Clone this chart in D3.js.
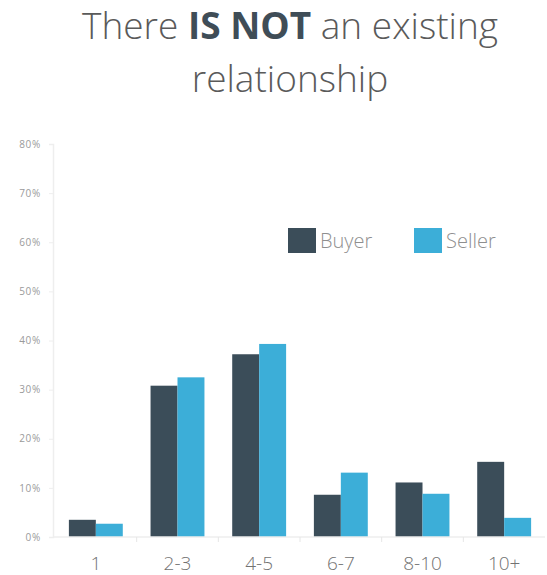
<!DOCTYPE html>
<html>
<head>
<meta charset="utf-8">
<script src="https://cdn.jsdelivr.net/npm/d3@7/dist/d3.min.js"></script>
<style>
  html, body { margin: 0; padding: 0; background: #fff; }
  svg { display: block; font-family: "Open Sans", "Noto Sans", sans-serif; }
</style>
</head>
<body>
<svg id="chart" width="547" height="575"></svg>
<script>
// Number of conversations/touchpoints, share of respondents
const categories = ["1", "2-3", "4-5", "6-7", "8-10", "10+"];
const seriesNames = ["Buyer", "Seller"];
const buyerValues = [3.5, 30.8, 37.2, 8.6, 11.1, 15.3];
const sellerValues = [2.7, 32.5, 39.3, 13.1, 8.8, 3.9];
const yTicks = [0, 10, 20, 30, 40, 50, 60, 70, 80];
const colors = ["#3b4d59", "#3caed8"];

const svg = d3.select("#chart");

// Title, two lines with a bold middle phrase
const title = svg.append("text")
  .attr("text-anchor", "middle")
  .attr("fill", "#5a5a5a")
  .style("font-size", "37px")
  .style("font-weight", 300);
const l1 = title.append("tspan").attr("x", 290).attr("y", 39);
l1.append("tspan").text("There ");
l1.append("tspan").text("IS NOT").style("font-weight", 700).attr("fill", "#3f4d57");
l1.append("tspan").text(" an existing");
title.append("tspan").attr("x", 290).attr("y", 92).text("relationship");

const x0 = d3.scaleBand()
  .domain(categories)
  .range([55, 545])
  .paddingInner(0.34)
  .paddingOuter(0.17);

const x1 = d3.scaleBand()
  .domain(seriesNames)
  .range([0, x0.bandwidth()]);

const y = d3.scaleLinear()
  .domain([0, 80])
  .range([537, 144]);

const color = d3.scaleOrdinal().domain(seriesNames).range(colors);

// Y axis
const yAxis = svg.append("g")
  .attr("transform", "translate(53,0)")
  .call(d3.axisLeft(y).tickValues(yTicks).tickFormat(d => d + "%").tickSize(4).tickPadding(8));
yAxis.select(".domain").attr("stroke", "#eeeeee").attr("stroke-width", 1.5);
yAxis.selectAll(".tick line").attr("stroke", "#eeeeee");
yAxis.selectAll(".tick text")
  .attr("fill", "#9a9a9a")
  .style("font-size", "10px")
  .style("letter-spacing", "0.7px")
  .style("font-family", "\"Open Sans\", sans-serif");

// Bars
const rows = categories.map((c, i) => ({ cat: c, vals: [buyerValues[i], sellerValues[i]] }));
const groups = svg.append("g").selectAll("g")
  .data(rows)
  .join("g")
  .attr("transform", d => `translate(${x0(d.cat)},0)`);
groups.selectAll("rect")
  .data(d => seriesNames.map((s, j) => ({ s, v: d.vals[j] })))
  .join("rect")
  .attr("x", d => x1(d.s))
  .attr("width", x1.bandwidth())
  .attr("y", d => y(d.v))
  .attr("height", d => y(0) - y(d.v))
  .attr("fill", d => color(d.s));

// X axis baseline with separator ticks between groups
const xAxisG = svg.append("g").attr("transform", `translate(0,${y(0)})`);
xAxisG.append("line")
  .attr("x1", 53).attr("x2", 545)
  .attr("stroke", "#eeeeee").attr("stroke-width", 1.5);
const step = x0.step();
xAxisG.selectAll("line.sep")
  .data(categories.slice(1))
  .join("line")
  .attr("class", "sep")
  .attr("x1", d => x0(d) - step * x0.paddingInner() / 2)
  .attr("x2", d => x0(d) - step * x0.paddingInner() / 2)
  .attr("y1", 0).attr("y2", 5)
  .attr("stroke", "#e6e6e6");
xAxisG.selectAll("text")
  .data(categories)
  .join("text")
  .attr("x", d => x0(d) + x0.bandwidth() / 2)
  .attr("y", 33)
  .attr("text-anchor", "middle")
  .attr("fill", "#727272")
  .style("font-size", "19px")
  .style("font-weight", 300)
  .text(d => d);

// Legend
const legend = svg.append("g").selectAll("g")
  .data(seriesNames)
  .join("g")
  .attr("transform", (d, i) => `translate(${288 + i * 126},228)`);
legend.append("rect")
  .attr("width", 28).attr("height", 25)
  .attr("fill", d => color(d));
legend.append("text")
  .attr("x", 32).attr("y", 20)
  .attr("fill", "#8f8f8f")
  .style("font-size", "20px")
  .style("font-weight", 300)
  .text(d => d);
</script>
</body>
</html>
